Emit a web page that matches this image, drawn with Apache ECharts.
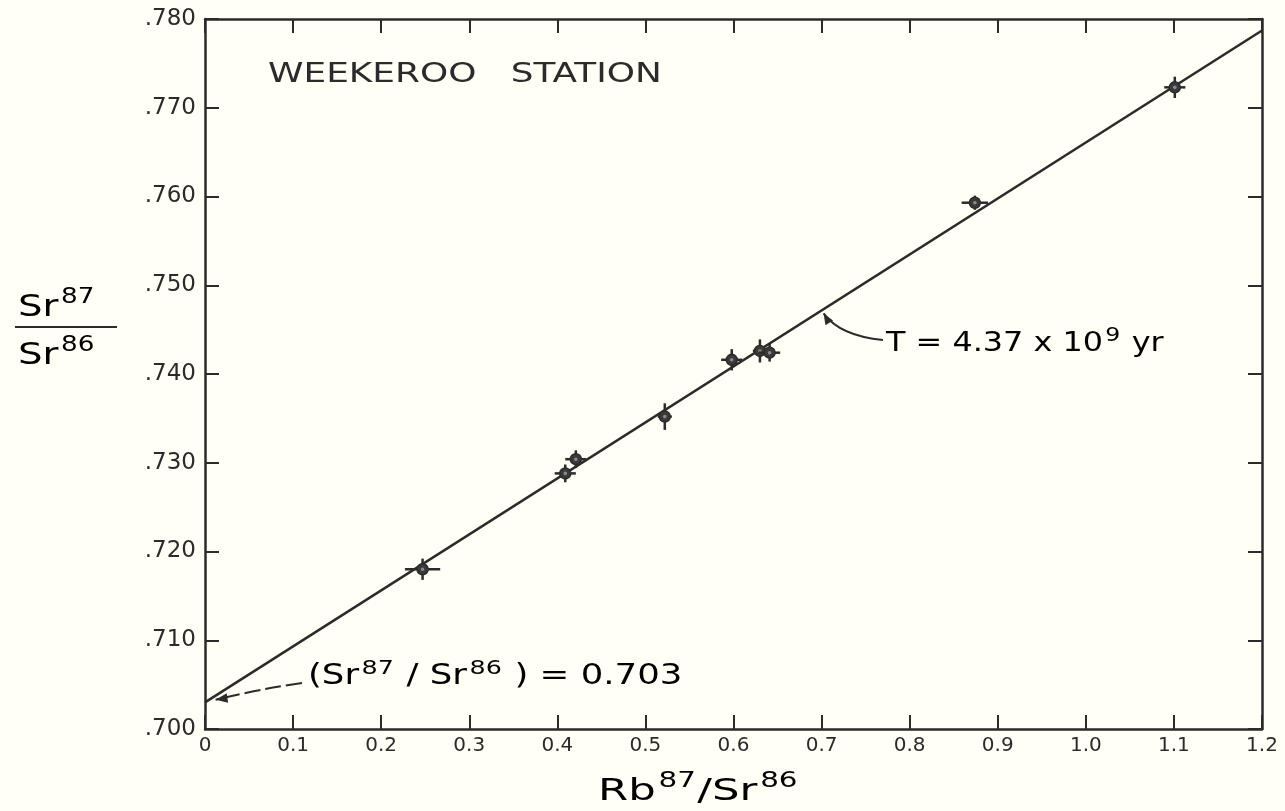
<!DOCTYPE html>
<html>
<head>
<meta charset="utf-8">
<script src="https://cdn.jsdelivr.net/npm/echarts@6/dist/echarts.min.js"></script>
<style>
html,body{margin:0;padding:0;background:#fffff6;}
#c{width:1285px;height:811px;}
</style>
</head>
<body>
<div id="c"></div>
<script>
// ---- data ----
const rbSr = [0.247, 0.409, 0.421, 0.522, 0.598, 0.630, 0.641, 0.874, 1.101];
const srSr = [0.7180, 0.7288, 0.7304, 0.7352, 0.7416, 0.7426, 0.7424, 0.7593, 0.7723];
const xErr = [0.020, 0.012, 0.012, 0.008, 0.012, 0.008, 0.012, 0.015, 0.012];
const yErr = [0.0012, 0.0010, 0.0010, 0.0015, 0.0012, 0.0013, 0.0010, 0.0008, 0.0012];
const isochronX = [0, 1.2];
const isochronY = [0.703, 0.7787];
const xTicks = ['0','0.1','0.2','0.3','0.4','0.5','0.6','0.7','0.8','0.9','1.0','1.1','1.2'];
const yTicks = ['.700','.710','.720','.730','.740','.750','.760','.770','.780'];

const ink = '#2b2b2b';
const font = '"DejaVu Sans", sans-serif';

const points = rbSr.map((x, i) => [x, srSr[i], xErr[i], yErr[i]]);
const lineData = isochronX.map((x, i) => [x, isochronY[i]]);

const chart = echarts.init(document.getElementById('c'));

const axisCommon = {
  axisLine: {show: true, onZero: false, lineStyle: {color: ink, width: 2.5}},
  axisTick: {show: true, inside: true, length: 14, lineStyle: {color: ink, width: 2}},
  splitLine: {show: false}
};

chart.setOption({
  backgroundColor: '#fffff6',
  animation: false,
  grid: {left: 205, right: 23, top: 19, bottom: 82},
  xAxis: [
    Object.assign({
      type: 'value', min: 0, max: 1.2, interval: 0.1, position: 'bottom',
      axisLabel: {
        color: ink, fontFamily: font, fontSize: 20, margin: 7,
        formatter: v => xTicks[Math.round(v * 10)]
      }
    }, axisCommon),
    Object.assign({
      type: 'value', min: 0, max: 1.2, interval: 0.1, position: 'top',
      axisLabel: {show: false}
    }, axisCommon)
  ],
  yAxis: [
    Object.assign({
      type: 'value', min: 0.7, max: 0.78, interval: 0.01, position: 'left',
      axisLabel: {
        color: ink, fontFamily: font, fontSize: 23, margin: 9,
        formatter: v => yTicks[Math.round((v - 0.7) * 100)]
      }
    }, axisCommon),
    Object.assign({
      type: 'value', min: 0.7, max: 0.78, interval: 0.01, position: 'right',
      axisLabel: {show: false}
    }, axisCommon)
  ],
  series: [
    {
      type: 'line', data: lineData, symbol: 'none', silent: true,
      lineStyle: {color: ink, width: 2.5}, z: 2
    },
    {
      type: 'custom', z: 3,
      data: points,
      renderItem: function (params, api) {
        const x = api.value(0), y = api.value(1), ex = api.value(2), ey = api.value(3);
        const l = api.coord([x - ex, y]), r = api.coord([x + ex, y]);
        const t = api.coord([x, y + ey]), b = api.coord([x, y - ey]);
        const c = api.coord([x, y]);
        const st = {stroke: ink, lineWidth: 2.5};
        return {
          type: 'group',
          children: [
            {type: 'line', shape: {x1: l[0], y1: l[1], x2: r[0], y2: r[1]}, style: st},
            {type: 'line', shape: {x1: t[0], y1: t[1], x2: b[0], y2: b[1]}, style: st},
            {type: 'circle', shape: {cx: c[0], cy: c[1], r: 5.5}, style: {fill: '#3a3a3a', stroke: ink, lineWidth: 1.5}},
            {type: 'circle', shape: {cx: c[0], cy: c[1], r: 1.8}, style: {fill: '#8a8a8a'}}
          ]
        };
      }
    }
  ]
});

// annotations anchored to data coordinates
const p = (x, y) => chart.convertToPixel({xAxisIndex: 0, yAxisIndex: 0}, [x, y]);
const tip1 = p(0.70, 0.7475);   // on the isochron
const tip2 = p(0.012, 0.7033);  // near the intercept

function arrowHead(tip, from, size) {
  const dx = tip[0] - from[0], dy = tip[1] - from[1];
  const len = Math.sqrt(dx * dx + dy * dy);
  const ux = dx / len, uy = dy / len;
  const bx = tip[0] - ux * size, by = tip[1] - uy * size;
  return [tip, [bx - uy * size * 0.4, by + ux * size * 0.4], [bx + uy * size * 0.4, by - ux * size * 0.4]];
}

function richText(x, y, sx, text, big, small) {
  return {
    type: 'text', x: x, y: y, scaleX: sx,
    style: {
      text: text, verticalAlign: 'top', align: 'left',
      rich: {
        n: {fontSize: big, fontFamily: font, color: ink, lineHeight: Math.round(big * 1.15), verticalAlign: 'bottom'},
        s: {fontSize: small, fontFamily: font, color: ink, lineHeight: small, verticalAlign: 'top', padding: [0, 1, 0, 2]}
      }
    }
  };
}

const c1s = [883, 340], c1c = [840, 336];
const c2s = [302, 683], c2c = [255, 690];

chart.setOption({
  graphic: [
    {type: 'text', x: 268, y: 62, scaleX: 1.38,
      style: {text: 'WEEKEROO   STATION', font: '26px ' + font, fill: ink, verticalAlign: 'top'}},
    // T annotation
    richText(886, 326, 1.18, '{n|T = 4.37 x 10}{s|9}{n| yr}', 27, 20),
    {type: 'bezierCurve', shape: {x1: c1s[0], y1: c1s[1], cpx1: c1c[0], cpy1: c1c[1], x2: tip1[0] + 2, y2: tip1[1] + 6},
      style: {stroke: ink, lineWidth: 2, fill: null}},
    {type: 'polygon', shape: {points: arrowHead([tip1[0] + 2, tip1[1] + 6], [tip1[0] + 8, tip1[1] + 16], 11)}, style: {fill: ink}},
    // intercept annotation
    richText(308, 659, 1.27, '{n|(Sr}{s|87}{n| / Sr}{s|86}{n| ) = 0.703}', 28, 20),
    {type: 'bezierCurve', shape: {x1: c2s[0], y1: c2s[1], cpx1: c2c[0], cpy1: c2c[1], x2: tip2[0], y2: tip2[1]},
      style: {stroke: ink, lineWidth: 2, fill: null, lineDash: [16, 5]}},
    {type: 'polygon', shape: {points: arrowHead(tip2, [tip2[0] + 14, tip2[1] - 2], 12)}, style: {fill: ink}},
    // y-axis title as a fraction
    richText(18, 287, 1.25, '{n|Sr}{s|87}', 31, 21),
    {type: 'line', shape: {x1: 15, y1: 327, x2: 117, y2: 327}, style: {stroke: ink, lineWidth: 2}},
    richText(18, 335, 1.25, '{n|Sr}{s|86}', 31, 21),
    // x-axis title
    richText(598, 771, 1.4, '{n|Rb}{s|87}{n|/Sr}{s|86}', 31, 21)
  ]
});
</script>
</body>
</html>
